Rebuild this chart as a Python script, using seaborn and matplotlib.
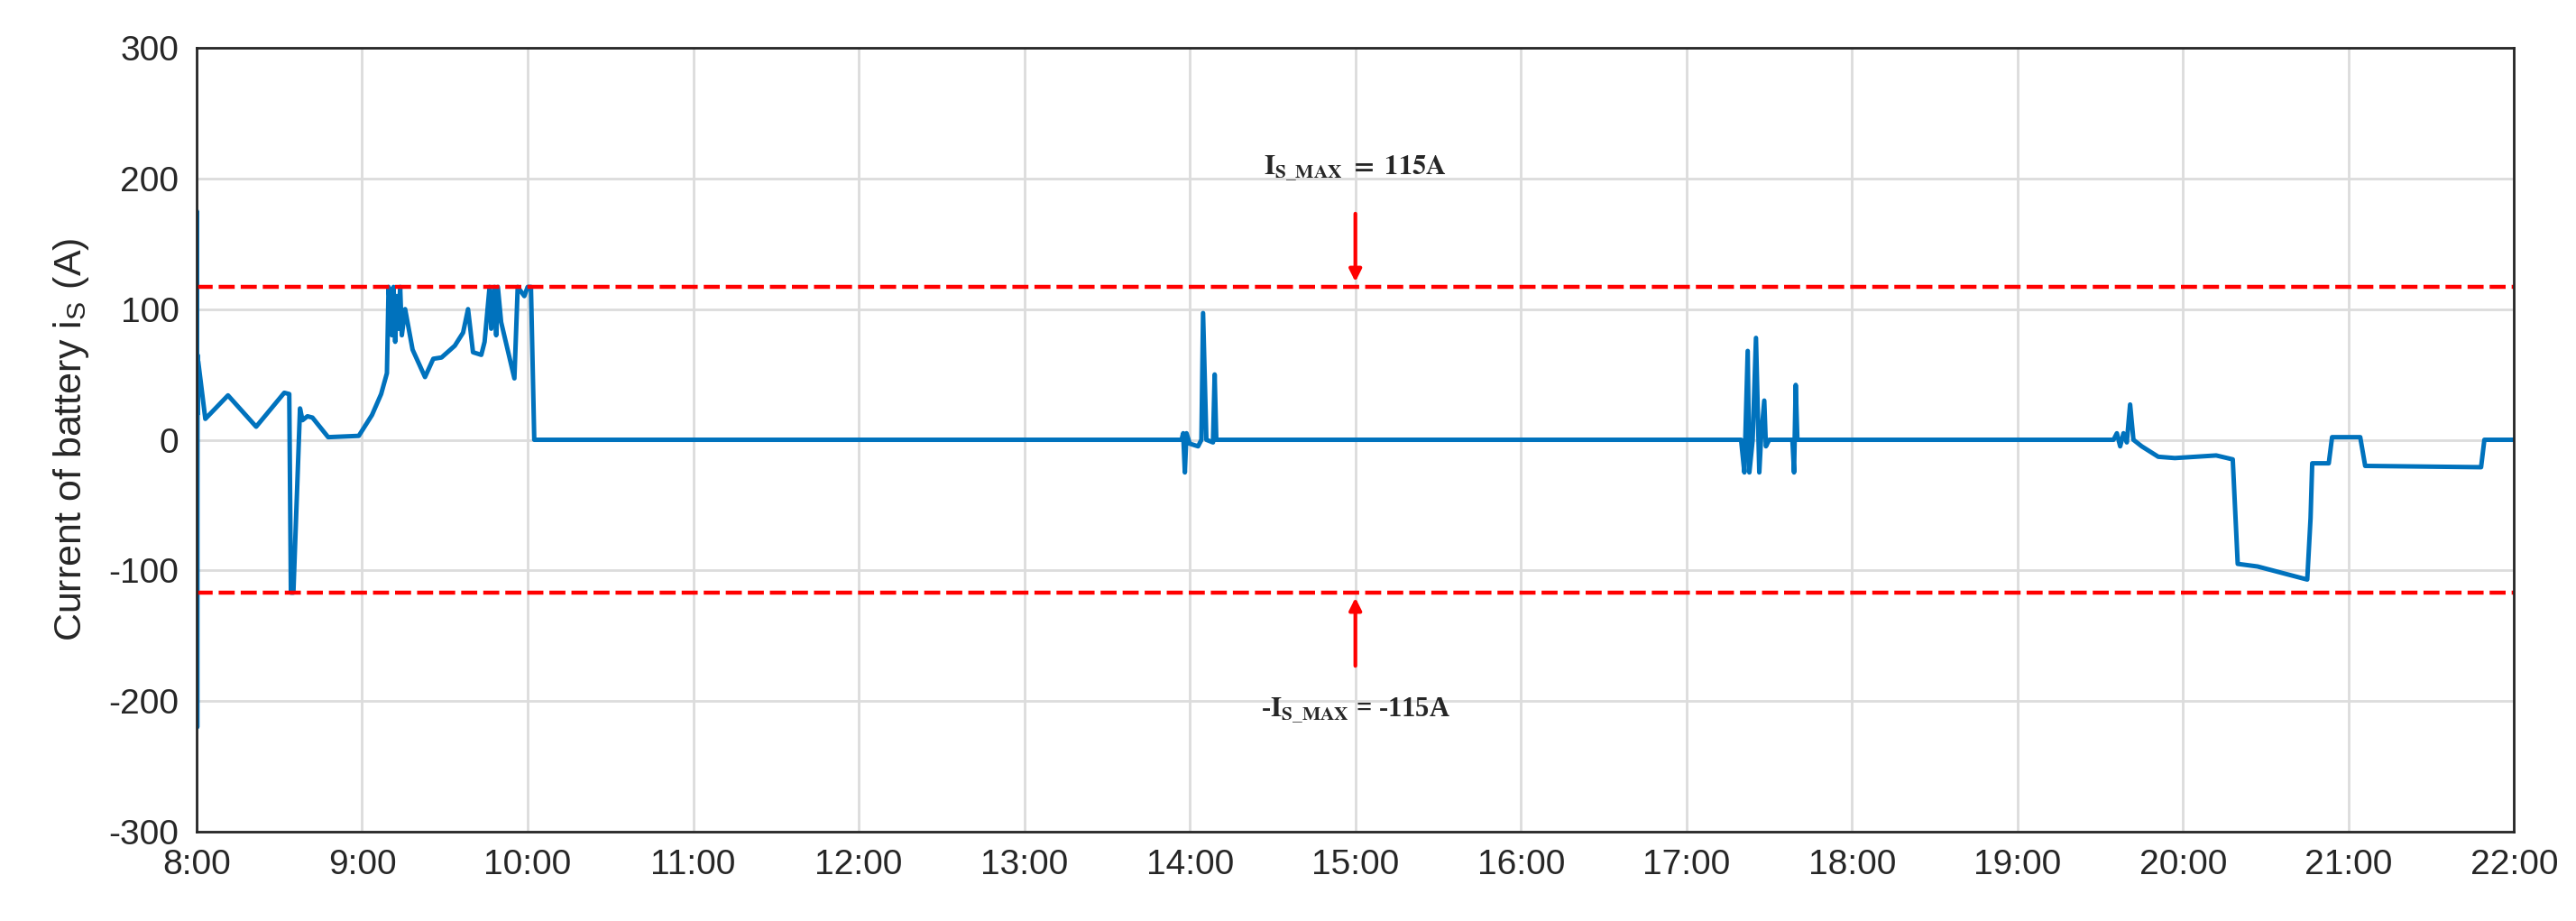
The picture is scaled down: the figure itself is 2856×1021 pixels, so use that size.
import matplotlib
matplotlib.use("Agg")
import matplotlib.pyplot as plt
import seaborn as sns
import pandas as pd

hours = [8.0, 8.002, 8.004, 8.006, 8.008, 8.010, 8.053, 8.19, 8.36, 8.53, 8.56, 8.57, 8.585, 8.625,
         8.64, 8.67, 8.70, 8.795, 8.98, 9.06, 9.115, 9.15, 9.16, 9.18, 9.19, 9.20, 9.21, 9.22, 9.23,
         9.24, 9.26, 9.305, 9.38, 9.43, 9.48, 9.56, 9.61, 9.64, 9.67, 9.72, 9.74, 9.77, 9.78, 9.80,
         9.81, 9.82, 9.84, 9.92, 9.94, 9.98, 10.0, 10.02, 10.04,
         13.95, 13.96, 13.97, 13.98, 14.0, 14.05, 14.07, 14.08, 14.1, 14.14, 14.15, 14.16,
         17.33, 17.35, 17.37, 17.38, 17.40, 17.42, 17.44, 17.45, 17.47, 17.48, 17.5,
         17.64, 17.65, 17.66, 17.67, 17.68,
         19.58, 19.60, 19.62, 19.64, 19.66, 19.68, 19.70, 19.75, 19.85, 19.95, 20.2, 20.3, 20.33,
         20.45, 20.75, 20.77, 20.78, 20.8, 20.88, 20.9, 21.07, 21.1, 21.8, 21.82, 22.0]
current = [0, 175, -220, 65, 20, 60, 16, 34, 10, 36, 35, -117, -117, 24,
           15, 18, 17, 2, 3, 19, 35, 51, 117, 80, 117, 75, 110, 85, 117,
           80, 100, 69, 48, 62, 63, 72, 82, 100, 67, 65, 75, 117, 85, 117,
           80, 117, 90, 47, 117, 110, 117, 117, 0,
           0, 5, -25, 5, -3, -5, 0, 97, 0, -2, 50, 0,
           0, -25, 68, -25, 0, 78, -25, 0, 30, -5, 0,
           0, -25, 42, 0, 0,
           0, 5, -5, 5, -2, 27, 0, -5, -13, -14, -12, -15, -95,
           -97, -107, -60, -18, -18, -18, 2, 2, -20, -21, 0, 0]

limit = 117
tick_hours = list(range(8, 23))
tick_labels = [f"{h}:00" for h in tick_hours]

df = pd.DataFrame({"t": hours, "i": current})

sns.set_style("whitegrid")
plt.rcParams['font.family'] = ['Liberation Sans', 'DejaVu Sans']
plt.rcParams['mathtext.fontset'] = 'stix'
plt.rcParams['axes.unicode_minus'] = False

fig = plt.figure(figsize=(28.56, 10.21), dpi=100)
ax = fig.add_axes([0.0763, 0.097, 0.8997, 0.851])
sns.lineplot(data=df, x="t", y="i", ax=ax, color="#0072BD", linewidth=3.6, estimator=None, sort=False)
ax.axhline(limit, color="red", linestyle=(0, (4, 1.5)), linewidth=3.2)
ax.axhline(-limit, color="red", linestyle=(0, (4, 1.5)), linewidth=3.2)

ax.set_xlim(8, 22)
ax.set_ylim(-300, 300)
ax.set_xticks(tick_hours)
ax.set_xticklabels(tick_labels)
ax.set_yticks(range(-300, 301, 100))
ax.tick_params(axis='both', labelsize=28, colors='#262626', direction='in', length=12, width=2, pad=14)
ax.set_xlabel("")
ax.set_ylabel(r"Current of battery i$_\mathregular{S}$ (A)", fontsize=31, color='#262626', labelpad=14)
ax.grid(True, color='#dcdcdc', linewidth=2)
for s in ax.spines.values():
    s.set_visible(True)
    s.set_color('#262626')
    s.set_linewidth(2)

ax.annotate("", xy=(15, limit + 2), xytext=(15, 175),
            arrowprops=dict(arrowstyle="-|>,head_width=0.4,head_length=0.8", color="red", lw=3))
ax.annotate("", xy=(15, -limit - 2), xytext=(15, -175),
            arrowprops=dict(arrowstyle="-|>,head_width=0.4,head_length=0.8", color="red", lw=3))
ax.text(15, 208, r"$\mathbf{I_{S\_MAX}}$$\mathbf{\ =\ 115A}$", ha='center', va='center', fontsize=22)
ax.text(15, -207, "-" + r"$\mathbf{I_{S\_MAX}}$ = -115A", ha='center', va='center', fontsize=22,
        family='Liberation Serif', weight='bold')

fig.savefig("out.png", dpi=100, facecolor='white')
